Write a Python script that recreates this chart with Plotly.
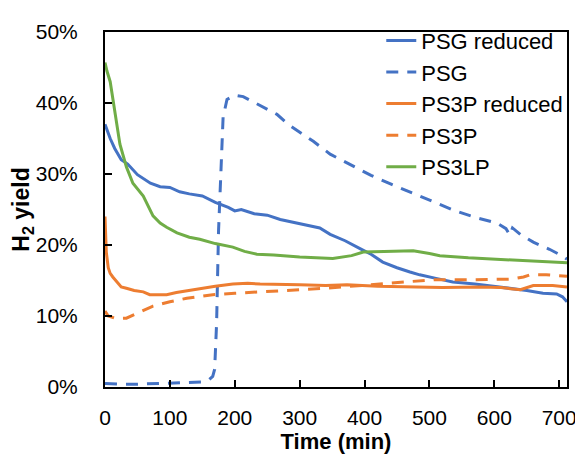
import plotly.graph_objects as go

psg_red_t = [0,3,8,15,25,35,50,70,85,100,115,130,150,170,190,200,210,230,250,270,290,310,331,347,370,393,410,428,450,470,485,510,536,570,604,630,650,675,696,705,712]
psg_red_y = [37.0,36.2,35.0,33.6,32.0,31.4,29.9,28.7,28.2,28.1,27.5,27.2,26.9,26.0,25.3,24.8,25.0,24.4,24.2,23.6,23.2,22.9,22.4,21.5,20.6,19.5,18.7,17.6,16.8,16.2,15.8,15.3,14.8,14.5,14.1,13.9,13.6,13.2,13.1,12.7,12.0]

psg_t = [0,20,50,80,100,130,150,160,166,169,172,175,178,182,188,200,213,228,245,265,282,300,321,347,380,410,440,475,510,540,570,604,618,624,628,640,660,685,706,712]
psg_y = [0.5,0.4,0.4,0.5,0.5,0.6,0.7,1.0,1.5,2.5,9,22,30,38,40.5,41.1,40.9,40.2,39.3,38.4,37.0,35.9,34.6,32.8,31.2,29.8,28.6,27.3,26.0,24.8,23.9,23.1,22.3,21.4,22.4,21.5,20.4,19.4,18.4,18.0]

ps3p_red_t = [0,2,5,8,12,18,25,33,45,59,69,80,95,110,130,146,170,197,220,239,270,300,340,373,420,475,520,578,610,640,660,690,712]
ps3p_red_y = [24.0,19,16.8,16.0,15.5,14.8,14.1,13.9,13.6,13.4,13.0,13.0,13.0,13.3,13.6,13.9,14.2,14.5,14.6,14.5,14.5,14.4,14.3,14.4,14.2,14.1,14.0,14.1,14.0,13.7,14.3,14.3,14.1]

ps3p_t = [0,5,15,33,50,74,100,126,150,166,200,249,300,340,380,434,470,505,560,600,628,645,655,680,696,712]
ps3p_y = [10.7,10.0,9.7,9.7,10.4,11.4,12.0,12.5,12.8,13.0,13.2,13.4,13.7,13.9,14.2,14.5,14.8,15.1,15.1,15.1,15.2,15.5,15.8,15.8,15.7,15.6]

ps3lp_t = [0,3,8,15,23,33,43,59,74,85,95,111,130,146,170,197,215,234,260,300,351,380,398,430,475,500,516,560,600,629,670,712]
ps3lp_y = [45.7,44.5,43,38.8,34.2,31,28.7,26.9,24.1,23.1,22.5,21.7,21.1,20.8,20.2,19.7,19.1,18.7,18.6,18.3,18.1,18.5,19.0,19.1,19.2,18.8,18.5,18.2,18.0,17.9,17.7,17.5]

x_ticks = [0, 100, 200, 300, 400, 500, 600, 700]
y_ticks = [0, 0.1, 0.2, 0.3, 0.4, 0.5]

BLUE = "#4472C4"; ORANGE = "#ED7D31"; GREEN = "#70AD47"
DASH = "12px,9px"
FONT = "Liberation Sans"

def pct(v):
    return [x / 100 for x in v]

fig = go.Figure()
series = [
    ("PSG reduced", psg_red_t, psg_red_y, BLUE, "solid"),
    ("PSG", psg_t, psg_y, BLUE, DASH),
    ("PS3P reduced", ps3p_red_t, ps3p_red_y, ORANGE, "solid"),
    ("PS3P", ps3p_t, ps3p_y, ORANGE, DASH),
    ("PS3LP", ps3lp_t, ps3lp_y, GREEN, "solid"),
]
for name, t, y, c, d in series:
    fig.add_trace(go.Scatter(x=t, y=pct(y), mode="lines", name=name, legendgroup=name,
                             line=dict(color=c, width=3, dash=d)))

# page body adds an 8px offset; margins compensate so the plot box sits as in the reference
fig.update_layout(
    width=575, height=447,
    margin=dict(l=97, r=16, t=17, b=68),
    paper_bgcolor="white", plot_bgcolor="white",
    font=dict(family=FONT, size=21, color="black"),
    legend=dict(x=0.598, y=1.035, xanchor="left", yanchor="top",
                bgcolor="rgba(0,0,0,0)", font=dict(size=22),
                tracegroupgap=0),
)
fig.update_xaxes(range=[0, 712], tickvals=x_ticks,
                 ticks="inside", ticklen=7, tickwidth=2, tickcolor="black",
                 showline=True, linecolor="black", linewidth=2, mirror=True,
                 showgrid=False, zeroline=False, ticklabelstandoff=11, automargin=False,
                 title=dict(text="<b>Time (min)</b>", standoff=5, font=dict(size=22)))
fig.update_yaxes(range=[0, 0.5], tickvals=y_ticks, tickformat=".0%",
                 ticks="inside", ticklen=7, tickwidth=2, tickcolor="black",
                 showline=True, linecolor="black", linewidth=2, mirror=True,
                 showgrid=False, zeroline=False, ticklabelstandoff=21, automargin=False,
                 title=dict(text="<b>H<sub>2</sub> yield</b>", standoff=2, font=dict(size=23)))

fig.write_html("out.html")
